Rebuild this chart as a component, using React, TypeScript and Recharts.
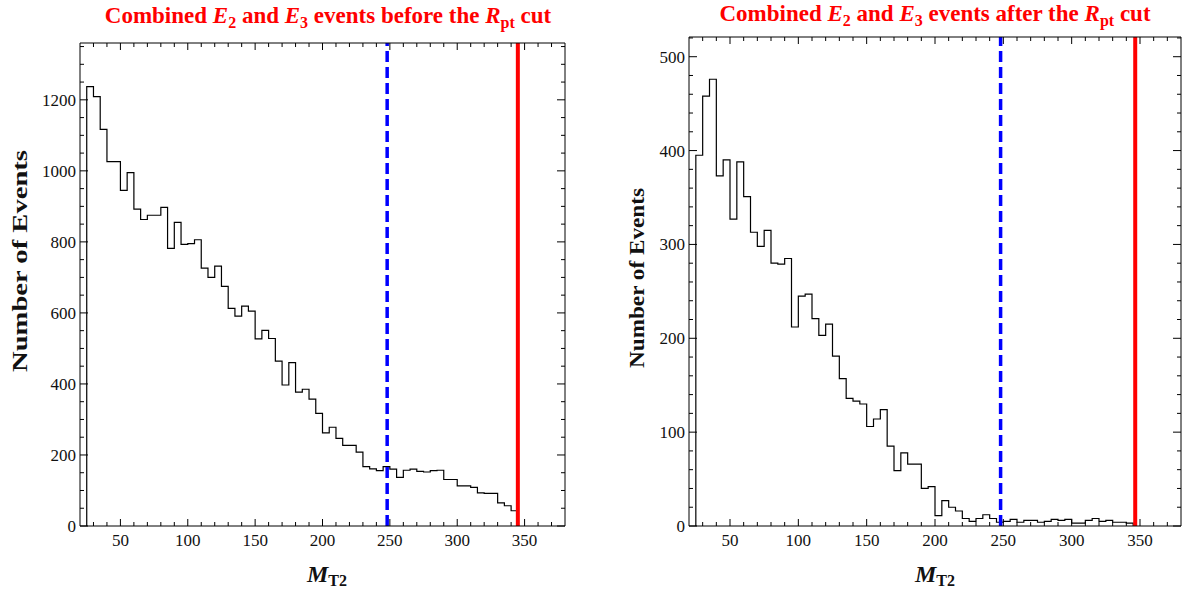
import React from 'react';
import { ComposedChart, Line, XAxis, YAxis, ReferenceLine } from 'recharts';

const FONT = '"Liberation Serif", "Times New Roman", serif';

// Histogram bin starts (bin width 5), last bin ends at binEnd
const binStarts = [25, 30, 35, 40, 45, 50, 55, 60, 65, 70, 75, 80, 85, 90, 95, 100, 105, 110, 115, 120, 125, 130, 135, 140, 145, 150, 155, 160, 165, 170, 175, 180, 185, 190, 195, 200, 205, 210, 215, 220, 225, 230, 235, 240, 245, 250, 255, 260, 265, 270, 275, 280, 285, 290, 295, 300, 305, 310, 315, 320, 325, 330, 335, 340];
const binEnd = 345;

const beforeCounts = [1237, 1209, 1117, 1026, 1026, 945, 995, 892, 863, 875, 875, 897, 782, 855, 793, 795, 806, 726, 700, 732, 675, 613, 591, 619, 605, 527, 551, 528, 464, 397, 460, 377, 385, 357, 317, 262, 278, 247, 227, 227, 208, 167, 161, 156, 167, 160, 137, 157, 160, 154, 152, 156, 157, 131, 131, 113, 113, 109, 93, 92, 92, 65, 57, 43];
const afterCounts = [395, 458, 476, 373, 390, 327, 388, 351, 313, 298, 315, 280, 279, 285, 212, 245, 247, 221, 203, 215, 181, 157, 136, 133, 130, 106, 114, 124, 85, 59, 78, 66, 66, 40, 42, 11, 27, 20, 16, 8, 5, 8, 12, 8, 4, 5, 7, 4, 6, 6, 4, 5, 7, 6, 7, 3, 3, 6, 8, 5, 6, 4, 4, 3];

const xTicks = [30, 40, 50, 60, 70, 80, 90, 100, 110, 120, 130, 140, 150, 160, 170, 180, 190, 200, 210, 220, 230, 240, 250, 260, 270, 280, 290, 300, 310, 320, 330, 340, 350, 360, 370];
const yTicksBefore = [0, 50, 100, 150, 200, 250, 300, 350, 400, 450, 500, 550, 600, 650, 700, 750, 800, 850, 900, 950, 1000, 1050, 1100, 1150, 1200, 1250, 1300, 1350];
const yTicksAfter = [0, 20, 40, 60, 80, 100, 120, 140, 160, 180, 200, 220, 240, 260, 280, 300, 320, 340, 360, 380, 400, 420, 440, 460, 480, 500, 520];

const xDomain = [20, 380];
const blueCutBefore = 248;
const redCutBefore = 345;
const blueCutAfter = 248;
const redCutAfter = 346.5;

function histData(counts: number[]) {
  const d: { x: number; y: number }[] = [{ x: binStarts[0], y: 0 }];
  binStarts.forEach((b, i) => d.push({ x: b, y: counts[i] }));
  d.push({ x: binEnd, y: counts[counts.length - 1] });
  d.push({ x: binEnd, y: 0 });
  return d;
}

const TICK_FS = 17;

const bottomTick = (major: number) => (props: any) => {
  const { x, y, payload } = props;
  const v = payload.value;
  const isMaj = v % major === 0;
  return (
    <g>
      <line x1={x} x2={x} y1={y} y2={y - (isMaj ? 7 : 4)} stroke="#000" strokeWidth={1} />
      {isMaj && (
        <text x={x} y={y + 20} textAnchor="middle" fontSize={TICK_FS} fontFamily={FONT} fill="#111">
          {v}
        </text>
      )}
    </g>
  );
};

const topTick = (major: number) => (props: any) => {
  const { x, y, payload } = props;
  const isMaj = payload.value % major === 0;
  return <line x1={x} x2={x} y1={y} y2={y + (isMaj ? 7 : 4)} stroke="#000" strokeWidth={1} />;
};

const leftTick = (major: number) => (props: any) => {
  const { x, y, payload } = props;
  const v = payload.value;
  const isMaj = v % major === 0;
  return (
    <g>
      <line x1={x} x2={x + (isMaj ? 8 : 4)} y1={y} y2={y} stroke="#000" strokeWidth={1} />
      {isMaj && (
        <text x={x - 4} y={y + 6} textAnchor="end" fontSize={TICK_FS} fontFamily={FONT} fill="#111">
          {v}
        </text>
      )}
    </g>
  );
};

const rightTick = (major: number) => (props: any) => {
  const { x, y, payload } = props;
  const isMaj = payload.value % major === 0;
  return <line x1={x} x2={x - (isMaj ? 8 : 4)} y1={y} y2={y} stroke="#000" strokeWidth={1} />;
};

type PanelProps = {
  left: number;
  width: number;
  margin: { top: number; right: number; bottom: number; left: number };
  counts: number[];
  yDomain: number[];
  yTicks: number[];
  yMajor: number;
  blueCut: number;
  redCut: number;
};

function Panel({ left, width, margin, counts, yDomain, yTicks, yMajor, blueCut, redCut }: PanelProps) {
  const data = histData(counts);
  const axisLine = { stroke: '#000', strokeWidth: 1 };
  // axes take 1px each; subtract from margins so the plot area lands where wanted
  const m = { top: margin.top - 1, right: margin.right - 1, bottom: margin.bottom - 1, left: margin.left - 1 };
  return (
    <div style={{ position: 'absolute', left, top: 0, width, height: 592 }}>
      <ComposedChart width={width} height={592} data={data} margin={m}>
        <XAxis
          xAxisId="b"
          dataKey="x"
          type="number"
          domain={xDomain}
          ticks={xTicks}
          interval={0}
          orientation="bottom"
          height={1}
          tickSize={0}
          tickMargin={0}
          tickLine={false}
          axisLine={axisLine}
          tick={bottomTick(50)}
          allowDataOverflow
        />
        <XAxis
          xAxisId="t"
          dataKey="x"
          type="number"
          domain={xDomain}
          ticks={xTicks}
          interval={0}
          orientation="top"
          height={1}
          tickSize={0}
          tickMargin={0}
          tickLine={false}
          axisLine={axisLine}
          tick={topTick(50)}
          allowDataOverflow
        />
        <YAxis
          yAxisId="l"
          type="number"
          domain={yDomain}
          ticks={yTicks}
          interval={0}
          orientation="left"
          width={1}
          tickSize={0}
          tickMargin={0}
          tickLine={false}
          axisLine={axisLine}
          tick={leftTick(yMajor)}
          allowDataOverflow
        />
        <YAxis
          yAxisId="r"
          type="number"
          domain={yDomain}
          ticks={yTicks}
          interval={0}
          orientation="right"
          width={1}
          tickSize={0}
          tickMargin={0}
          tickLine={false}
          axisLine={axisLine}
          tick={rightTick(yMajor)}
          allowDataOverflow
        />
        <Line
          xAxisId="b"
          yAxisId="l"
          type="stepAfter"
          dataKey="y"
          stroke="#000"
          strokeWidth={1.2}
          dot={false}
          activeDot={false}
          isAnimationActive={false}
        />
        <ReferenceLine xAxisId="b" yAxisId="l" x={blueCut} stroke="#0000ff" strokeWidth={3.5} strokeDasharray="11 5" />
        <ReferenceLine xAxisId="b" yAxisId="l" x={redCut} stroke="#ff0000" strokeWidth={4} />
      </ComposedChart>
    </div>
  );
}

function Title({ x, y, word }: { x: number; y: number; word: string }) {
  return (
    <text x={x} y={y} textAnchor="middle" fill="#ff0000" fontWeight="bold" fontSize={23} fontFamily={FONT} style={{ whiteSpace: 'pre' }}>
      <tspan>Combined </tspan>
      <tspan fontStyle="italic">E</tspan>
      <tspan fontSize={16} dy={5}>2</tspan>
      <tspan dy={-5}> and </tspan>
      <tspan fontStyle="italic">E</tspan>
      <tspan fontSize={16} dy={5}>3</tspan>
      <tspan dy={-5}>{` events ${word} the `}</tspan>
      <tspan fontStyle="italic">R</tspan>
      <tspan fontSize={16} dy={5}>pt</tspan>
      <tspan dy={-5}> cut</tspan>
    </text>
  );
}

function XLabel({ x, y }: { x: number; y: number }) {
  return (
    <text x={x} y={y} textAnchor="middle" fill="#111" fontWeight="bold" fontSize={24} fontFamily={FONT}>
      <tspan fontStyle="italic">M</tspan>
      <tspan fontSize={16} dy={4}>T2</tspan>
    </text>
  );
}

function YLabel({ x, y, len }: { x: number; y: number; len: number }) {
  return (
    <text
      x={x}
      y={y}
      textAnchor="middle"
      fill="#111"
      fontWeight="bold"
      fontSize={22}
      fontFamily={FONT}
      transform={`rotate(-90 ${x} ${y})`}
      textLength={len}
      lengthAdjust="spacingAndGlyphs"
    >
      Number of Events
    </text>
  );
}

export default function App() {
  return (
    <div style={{ position: 'absolute', left: 0, top: 0, width: 1183, height: 592, background: '#fff', overflow: 'hidden' }}>
      <Panel
        left={0}
        width={590}
        margin={{ top: 43, right: 25, bottom: 66, left: 80 }}
        counts={beforeCounts}
        yDomain={[0, 1360]}
        yTicks={yTicksBefore}
        yMajor={200}
        blueCut={blueCutBefore}
        redCut={redCutBefore}
      />
      <Panel
        left={600}
        width={583}
        margin={{ top: 37, right: 2, bottom: 66, left: 89 }}
        counts={afterCounts}
        yDomain={[0, 521]}
        yTicks={yTicksAfter}
        yMajor={100}
        blueCut={blueCutAfter}
        redCut={redCutAfter}
      />
      <svg width={1183} height={592} style={{ position: 'absolute', left: 0, top: 0, pointerEvents: 'none' }}>
        <Title x={328} y={23} word="before" />
        <Title x={935} y={21} word="after" />
        <XLabel x={327} y={582} />
        <XLabel x={935} y={582} />
        <YLabel x={27} y={261} len={222} />
        <YLabel x={644} y={278} len={180} />
      </svg>
    </div>
  );
}
